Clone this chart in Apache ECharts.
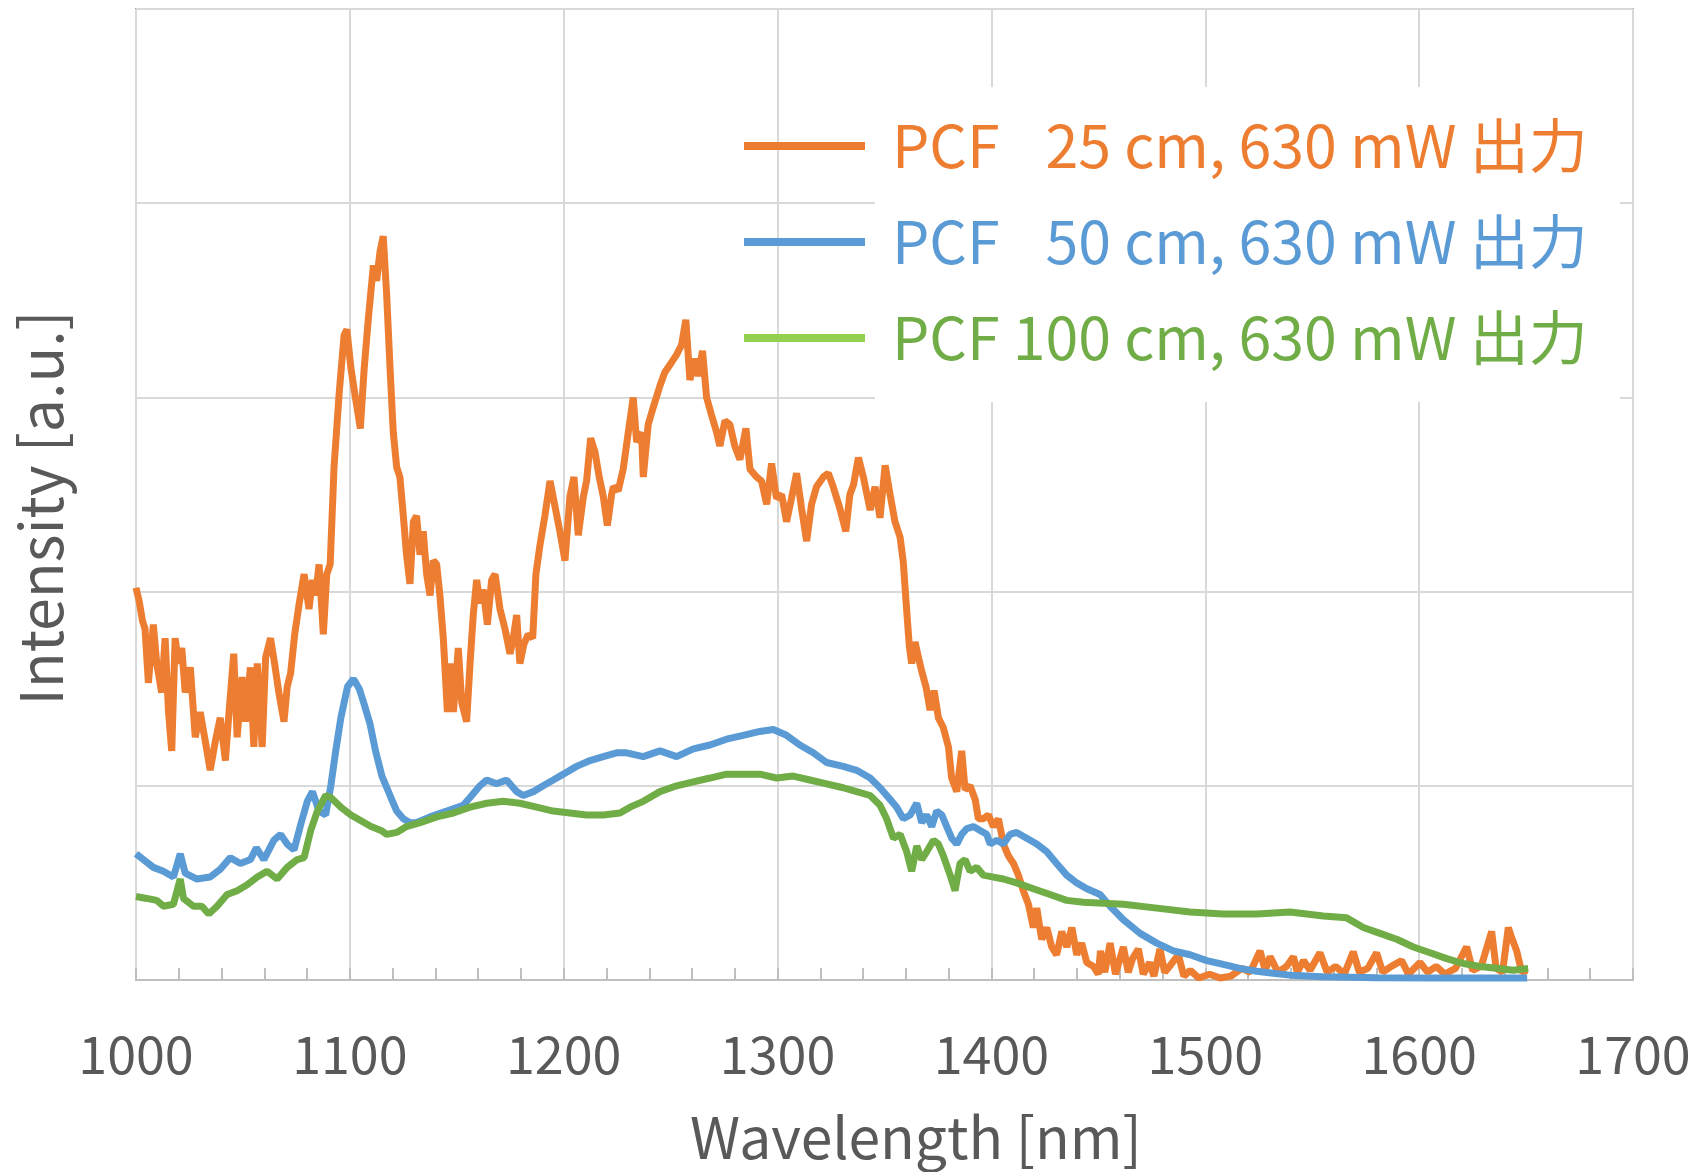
<!DOCTYPE html>
<html><head><meta charset="utf-8">
<script src="https://cdn.jsdelivr.net/npm/echarts@6/dist/echarts.min.js"></script>
<style>html,body{margin:0;padding:0;background:#fff}#c{width:1707px;height:1172px}</style>
</head><body><div id="c"></div>
<script>
// ---- data ----
const seriesNames = ['PCF \u200725 cm, 630 mW 出力', 'PCF \u200750 cm, 630 mW 出力', 'PCF 100 cm, 630 mW 出力'];
const xTitle = 'Wavelength [nm]';
const yTitle = 'Intensity [a.u.]';
const xTickValues = [1000, 1100, 1200, 1300, 1400, 1500, 1600, 1700];

const wl25 = [1000,1001.5,1003,1004.2,1005.8,1008.1,1009.7,1012,1013.6,1015.2,1016.7,1018.3,1019.9,1021.4,1023,1025.4,1027.7,1030,1032.4,1034.7,1037.1,1039.4,1041.8,1043.3,1045.7,1047.3,1049.6,1051.2,1053.5,1055.1,1056.7,1059,1060.6,1062.9,1064.8,1066.8,1069.2,1070.7,1072.3,1074.2,1076.2,1078.6,1080.9,1082.5,1084,1085.6,1087.6,1089.2,1090.8,1092.6,1095,1097.3,1098.6,1100.5,1102.3,1104.9,1106.7,1108.6,1111,1112.5,1114.1,1115.6,1117.2,1118.8,1120.3,1121.9,1123.4,1125,1126.5,1128.1,1129.7,1131.2,1132.8,1134.3,1135.9,1137.5,1139,1140.6,1142.1,1143.7,1145.6,1146.8,1148.4,1150.7,1152.3,1154.6,1156.2,1157.7,1159.3,1160.8,1162.4,1164.3,1166.3,1167.9,1170.2,1172.5,1174.9,1176.4,1178,1179.5,1181.4,1183.4,1185.5,1187,1188.9,1191.2,1193.6,1195.9,1198.2,1200.6,1202.9,1204.8,1206.8,1209.2,1210.7,1212.6,1214.6,1216.6,1218.5,1220.4,1222.4,1223.2,1225.5,1227.8,1230.2,1232.5,1234.1,1236.4,1237.2,1239.5,1241.9,1245,1247.3,1250.4,1252.8,1255.1,1257.1,1259,1261.3,1262.9,1264.9,1266.8,1269.1,1271.5,1273,1275.4,1277.7,1280,1282.4,1285.2,1287.1,1290.2,1292.5,1294.9,1297.2,1299.5,1301.9,1304.2,1306.5,1308.9,1311.2,1313.6,1315.9,1318.2,1321.4,1323.7,1326,1329.1,1331.9,1333.8,1335.5,1337.8,1340.1,1343.3,1345.6,1347.9,1350.3,1352.6,1354.9,1357.3,1358.8,1360.4,1361.6,1362.7,1364.3,1365.9,1367.4,1369.4,1371.3,1373.2,1375.2,1377.5,1379.9,1381.4,1383.8,1386.1,1387.7,1390,1392.4,1393.9,1396.2,1398.6,1400.9,1403.3,1405.6,1407.9,1410.3,1412.6,1414.9,1417.3,1419.6,1421.2,1423.5,1425.9,1428.2,1430.5,1432.9,1435.2,1437.6,1439.9,1442.2,1444.6,1447.7,1450,1451,1453,1455.5,1458,1461.7,1464,1466,1468.7,1471,1474,1476,1478.8,1481,1484,1487.4,1490,1493,1497,1502,1507,1512,1517,1521,1525.6,1528,1530.3,1534,1538,1541.2,1543,1545.9,1549,1553.6,1557,1561,1565,1569.2,1572,1576,1580.1,1583,1587,1591.8,1595,1600.4,1604,1608,1612,1617,1622.2,1625,1629,1633.9,1636,1639,1641.7,1643.2,1645.6,1648,1650.5];
const int25 = [2.02,1.95,1.85,1.81,1.53,1.83,1.63,1.48,1.76,1.38,1.18,1.76,1.63,1.71,1.48,1.61,1.25,1.38,1.23,1.08,1.23,1.35,1.13,1.35,1.68,1.25,1.56,1.33,1.61,1.2,1.63,1.2,1.66,1.76,1.63,1.48,1.33,1.51,1.58,1.78,1.93,2.09,1.91,2.06,1.98,2.14,1.78,2.09,2.14,2.64,3.02,3.32,3.35,3.15,3.02,2.84,3.15,3.4,3.68,3.6,3.75,3.83,3.53,3.15,2.82,2.64,2.59,2.39,2.19,2.04,2.36,2.39,2.19,2.31,2.09,1.98,2.16,2.14,1.98,1.76,1.38,1.63,1.38,1.71,1.43,1.33,1.63,1.88,2.06,1.94,2.01,1.83,2.06,2.09,1.91,1.81,1.68,1.76,1.88,1.63,1.73,1.78,1.76,2.09,2.24,2.39,2.57,2.44,2.31,2.16,2.49,2.59,2.29,2.49,2.57,2.79,2.72,2.59,2.49,2.34,2.5,2.54,2.52,2.63,2.82,3,2.77,2.82,2.59,2.86,2.95,3.06,3.13,3.18,3.22,3.27,3.4,3.09,3.2,3.11,3.24,3,2.91,2.82,2.75,2.88,2.86,2.75,2.68,2.84,2.63,2.59,2.57,2.45,2.66,2.48,2.5,2.36,2.48,2.61,2.43,2.26,2.45,2.54,2.59,2.61,2.54,2.43,2.31,2.5,2.55,2.69,2.59,2.42,2.54,2.38,2.65,2.5,2.36,2.28,2.15,1.9,1.72,1.63,1.74,1.66,1.59,1.51,1.39,1.49,1.35,1.3,1.2,1.04,0.97,1.18,0.98,1,0.93,0.83,0.83,0.85,0.79,0.83,0.7,0.64,0.6,0.54,0.46,0.39,0.27,0.37,0.21,0.27,0.17,0.13,0.25,0.17,0.27,0.13,0.19,0.09,0.07,0.03,0.15,0.04,0.19,0.03,0.17,0.04,0.11,0.16,0.03,0.09,0.02,0.16,0.04,0.08,0.13,0.02,0.05,0.01,0.03,0.01,0.02,0.06,0.04,0.15,0.05,0.12,0.04,0.07,0.12,0.04,0.1,0.05,0.14,0.04,0.07,0.03,0.145,0.04,0.06,0.14,0.04,0.07,0.1,0.03,0.09,0.04,0.07,0.03,0.06,0.17,0.05,0.07,0.25,0.06,0.04,0.27,0.22,0.15,0.04,0.05];

const wl50 = [1000,1003.4,1008.1,1012.8,1017.5,1020.7,1023,1028.5,1034.7,1039.4,1044.1,1048.8,1053.5,1056.3,1059.8,1064.5,1067.6,1070.7,1073.9,1077,1080.1,1082.5,1085.6,1088.7,1091.1,1093.4,1095.8,1098.9,1101.7,1104.4,1106.7,1109.4,1112,1115,1118.8,1121.9,1125,1128.1,1131,1137.5,1145.3,1153,1156.2,1160.8,1164,1168.6,1173.3,1178,1181.1,1185.8,1190.4,1195.1,1199.8,1206,1212.3,1218.5,1224.7,1229.4,1237.2,1245,1252.8,1260.6,1268.4,1276.1,1283.9,1291.7,1298,1304.2,1310.4,1316.7,1322.9,1330.7,1337,1343.3,1347.9,1352.6,1355.7,1358.8,1362,1365.1,1367.4,1369.7,1372.1,1374.4,1376.8,1379.1,1381.4,1383.8,1386.1,1388.5,1391.6,1394.7,1397.8,1399.4,1402.5,1405.6,1408.7,1411.8,1416.5,1421.2,1425.9,1430.5,1435.2,1439.9,1444.6,1450.8,1455.5,1461.7,1469.5,1477.3,1485.1,1492.9,1500.7,1508.4,1516.2,1524,1531.8,1539.6,1555,1580,1610,1650.5];
const int50 = [0.65,0.62,0.58,0.56,0.53,0.65,0.55,0.52,0.53,0.57,0.63,0.6,0.62,0.68,0.62,0.72,0.75,0.7,0.67,0.8,0.92,0.97,0.87,0.85,1,1.18,1.35,1.51,1.55,1.5,1.42,1.32,1.18,1.05,0.95,0.87,0.83,0.81,0.81,0.84,0.87,0.9,0.94,1,1.03,1.01,1.03,0.97,0.95,0.97,1,1.03,1.06,1.1,1.13,1.15,1.17,1.17,1.15,1.18,1.15,1.19,1.21,1.24,1.26,1.28,1.29,1.26,1.21,1.17,1.12,1.1,1.08,1.04,0.99,0.93,0.89,0.83,0.85,0.91,0.81,0.85,0.79,0.87,0.85,0.79,0.73,0.7,0.75,0.78,0.79,0.77,0.75,0.7,0.72,0.7,0.75,0.76,0.73,0.7,0.66,0.6,0.54,0.5,0.47,0.44,0.38,0.31,0.24,0.19,0.15,0.13,0.1,0.08,0.06,0.045,0.035,0.025,0.017,0.012,0.01,0.01];

const wl100 = [1000,1005,1009.7,1012.8,1017.5,1020.7,1022.2,1026.9,1030.8,1034,1037.9,1042.6,1047.3,1052,1056.7,1061.3,1066,1070.7,1075.4,1078.6,1081.7,1084.8,1088.7,1091.1,1095.8,1100.5,1105.2,1109.9,1114.6,1117.2,1121.9,1126.5,1132.8,1140.6,1148.4,1156.2,1164,1171.7,1179.5,1187.3,1195.1,1202.9,1210.7,1218.5,1226.3,1231,1237.2,1245,1252.8,1260.6,1268.4,1276.1,1283.9,1291.7,1299.5,1307.3,1315.1,1322.9,1330.7,1337,1343.3,1347.9,1351,1354.2,1357.3,1360.4,1362.7,1365.1,1367.4,1369.7,1372.9,1375.2,1377.5,1380.7,1383,1385.3,1387.7,1390,1393.1,1396.2,1400.9,1405.6,1411.8,1419.6,1427.4,1435.2,1443,1461.7,1477.3,1492.9,1508.4,1524,1539.6,1555.2,1566.1,1573.9,1581.7,1589.5,1597.3,1605.1,1612.9,1620.6,1628.4,1636.2,1644,1651];
const int100 = [0.43,0.42,0.41,0.38,0.39,0.52,0.42,0.38,0.38,0.34,0.38,0.44,0.46,0.49,0.53,0.56,0.52,0.58,0.62,0.63,0.77,0.87,0.95,0.94,0.89,0.85,0.82,0.79,0.77,0.75,0.76,0.79,0.81,0.84,0.86,0.89,0.91,0.92,0.91,0.89,0.87,0.86,0.85,0.85,0.86,0.89,0.92,0.97,1,1.02,1.04,1.06,1.06,1.06,1.04,1.05,1.03,1.01,0.99,0.97,0.95,0.9,0.83,0.73,0.75,0.66,0.56,0.69,0.62,0.66,0.72,0.7,0.64,0.54,0.46,0.6,0.62,0.56,0.58,0.54,0.53,0.52,0.5,0.47,0.44,0.41,0.4,0.39,0.37,0.35,0.34,0.34,0.35,0.33,0.32,0.27,0.24,0.21,0.17,0.14,0.11,0.085,0.07,0.06,0.05,0.06];

// ---- style ----
const FONT = '"Noto Sans CJK JP", "Noto Sans", sans-serif';
const lineColors = ['#ED7D31', '#5B9BD5', '#70AD47'];
const legendLineColors = ['#ED7D31', '#5B9BD5', '#92D050'];
const legendTextColors = ['#ED7D31', '#5B9BD5', '#70AD47'];
const textGray = '#595959';

const zip = (xs, ys) => xs.map((x, i) => [x, ys[i]]);
const seriesData = [zip(wl25, int25), zip(wl50, int50), zip(wl100, int100)];

const chart = echarts.init(document.getElementById('c'), null, {renderer: 'canvas'});
chart.setOption({
  animation: false,
  backgroundColor: '#ffffff',
  grid: {left: 136, top: 9, right: 74, bottom: 192, show: true, borderColor: '#93a987', borderWidth: 2, backgroundColor: 'transparent'},
  xAxis: {
    type: 'value', min: xTickValues[0], max: xTickValues[xTickValues.length - 1], interval: 100,
    axisLine: {show: true, lineStyle: {color: '#bfbfbf', width: 2}},
    axisTick: {show: true, inside: true, length: 12, lineStyle: {color: '#bfbfbf', width: 2}},
    minorTick: {show: true, splitNumber: 5, length: 12, lineStyle: {color: '#bfbfbf', width: 2}},
    axisLabel: {fontSize: 52, fontFamily: FONT, color: textGray, margin: 48, formatter: (v) => String(v)},
    splitLine: {show: true, lineStyle: {color: '#d9d9d9', width: 2}}
  },
  yAxis: {
    type: 'value', min: 0, max: 5, interval: 1,
    axisLine: {show: false}, axisTick: {show: false}, axisLabel: {show: false},
    splitLine: {show: true, lineStyle: {color: '#d9d9d9', width: 2}}
  },
  legend: {
    orient: 'vertical', left: 739, top: 101, itemWidth: 121, itemHeight: 8, itemGap: 16,
    icon: 'rect', selectedMode: false,
    textStyle: {fontSize: 59, fontFamily: FONT, lineHeight: 66, padding: [0, 0, 14, 22]},
    data: seriesNames.map((n, i) => ({name: n, icon: 'rect', itemStyle: {color: legendLineColors[i]}, textStyle: {color: legendTextColors[i]}}))
  },
  graphic: [
    {type: 'rect', z: 1, silent: true, shape: {x: 875, y: 87, width: 745, height: 315}, style: {fill: '#ffffff'}},
    {type: 'text', x: 916, y: 1137, style: {text: xTitle, fontSize: 57, fontFamily: FONT, fill: textGray, align: 'center', verticalAlign: 'middle'}},
    {type: 'text', x: 41, y: 508, rotation: Math.PI / 2, style: {text: yTitle, fontSize: 59, fontFamily: FONT, fill: textGray, align: 'center', verticalAlign: 'middle'}}
  ],
  series: seriesNames.map((n, i) => ({
    name: n, type: 'line', data: seriesData[i], showSymbol: false, symbol: 'none',
    lineStyle: {width: 7, color: lineColors[i]}, itemStyle: {color: lineColors[i]}, z: 2 + i
  }))
});
</script></body></html>
